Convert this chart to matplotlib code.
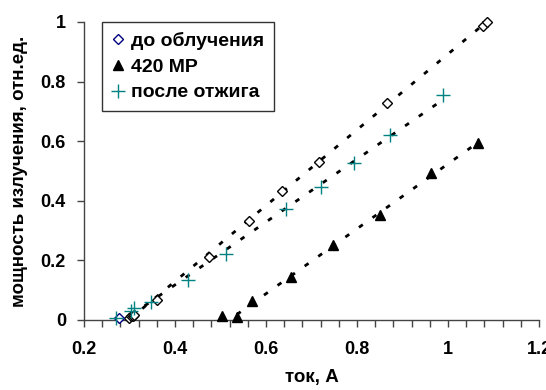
import numpy as np
import matplotlib
matplotlib.use("Agg")
import matplotlib.pyplot as plt
from matplotlib.ticker import MultipleLocator

plt.rcParams['font.family'] = ['Liberation Sans', 'DejaVu Sans']
plt.rcParams['font.weight'] = 'bold'

# до облучения
x_do = [0.278, 0.300, 0.303, 0.307, 0.310, 0.360, 0.475, 0.563, 0.636, 0.716, 0.865, 1.076, 1.085]
y_do = [0.007, 0.008, 0.013, 0.015, 0.018, 0.067, 0.212, 0.332, 0.434, 0.531, 0.729, 0.987, 1.000]

# 420 MP
x_mp = [0.503, 0.536, 0.570, 0.654, 0.748, 0.850, 0.962, 1.067]
y_mp = [0.013, 0.011, 0.065, 0.145, 0.252, 0.352, 0.492, 0.593]

# после отжига
x_ot = [0.271, 0.303, 0.311, 0.347, 0.429, 0.513, 0.643, 0.720, 0.794, 0.873, 0.990]
y_ot = [0.006, 0.031, 0.039, 0.061, 0.134, 0.220, 0.371, 0.447, 0.528, 0.621, 0.755]

x_ticks = [0.2, 0.4, 0.6, 0.8, 1.0, 1.2]
x_tick_labels = ['0.2', '0.4', '0.6', '0.8', '1', '1.2']
y_ticks = [0, 0.2, 0.4, 0.6, 0.8, 1.0]
y_tick_labels = ['0', '0.2', '0.4', '0.6', '0.8', '1']

fig = plt.figure(figsize=(5.46, 3.90), dpi=100)
ax = fig.add_axes([0.1538, 0.1795, 0.8333, 0.7641])

navy = '#000080'
teal = '#008080'
dots = (0, (1.7, 4.3))


def trend(xs, ys, start):
    xs = np.array(xs[start:])
    ys = np.array(ys[start:])
    k, b = np.polyfit(xs, ys, 1)
    xl = np.array([xs.min(), xs.max()])
    ax.plot(xl, k * xl + b, color='black', lw=2, linestyle=dots, zorder=2)


trend(x_do, y_do, 1)
trend(x_ot, y_ot, 1)
trend(x_mp, y_mp, 1)

# маркеры
ax.plot(x_do[1:], y_do[1:], linestyle='none', marker='D', ms=5.2, mfc='white',
        mec='black', mew=1, zorder=3, clip_on=False)
ax.plot(x_do[:1], y_do[:1], linestyle='none', marker='D', ms=5.2, mfc='white',
        mec=navy, mew=1, zorder=3, clip_on=False)
ax.plot(x_mp, y_mp, linestyle='none', marker='^', ms=7.5, color='black',
        zorder=3, clip_on=False)
ax.plot(x_ot, y_ot, linestyle='none', marker='+', ms=10, mew=1, color=teal,
        zorder=4, clip_on=False)

# легенда
h1, = ax.plot([], [], linestyle='none', marker='D', ms=5.2, mfc='white', mec=navy, mew=1)
h2, = ax.plot([], [], linestyle='none', marker='^', ms=7.5, color='black')
h3, = ax.plot([], [], linestyle='none', marker='+', ms=10, mew=1, color=teal)
leg = ax.legend([h1, h2, h3], ['до облучения', '420 MP', 'после отжига'],
                loc='upper left', bbox_to_anchor=(0.039, 1.0), borderaxespad=0,
                fontsize=14, handlelength=0.7, handletextpad=0.3,
                labelspacing=0.42, borderpad=0.5, fancybox=False,
                edgecolor='#333333', framealpha=1)
leg.get_frame().set_linewidth(1)
for t in leg.get_texts():
    t.set_fontweight('bold')

ax.set_xlim(0.2, 1.2)
ax.set_ylim(0, 1)
ax.set_xticks(x_ticks)
ax.set_xticklabels(x_tick_labels)
ax.set_yticks(y_ticks)
ax.set_yticklabels(y_tick_labels)
ax.xaxis.set_minor_locator(MultipleLocator(0.04))

for s in ['top', 'right']:
    ax.spines[s].set_visible(False)
for s in ['left', 'bottom']:
    ax.spines[s].set_color('#444444')
    ax.spines[s].set_linewidth(1)

ax.tick_params(axis='x', which='both', direction='out', length=5, width=1,
               color='#444444', pad=10, labelsize=13)
ax.tick_params(axis='y', which='major', direction='out', length=5, width=1,
               color='#444444', pad=8, labelsize=13)
for lab in ax.get_xticklabels() + ax.get_yticklabels():
    lab.set_fontweight('bold')

ax.set_xlabel('ток, А', fontsize=13.5, fontweight='bold', labelpad=8)
ax.set_ylabel('мощность излучения, отн.ед.', fontsize=13.5, fontweight='bold', labelpad=9)

fig.savefig('out.png', dpi=100)
